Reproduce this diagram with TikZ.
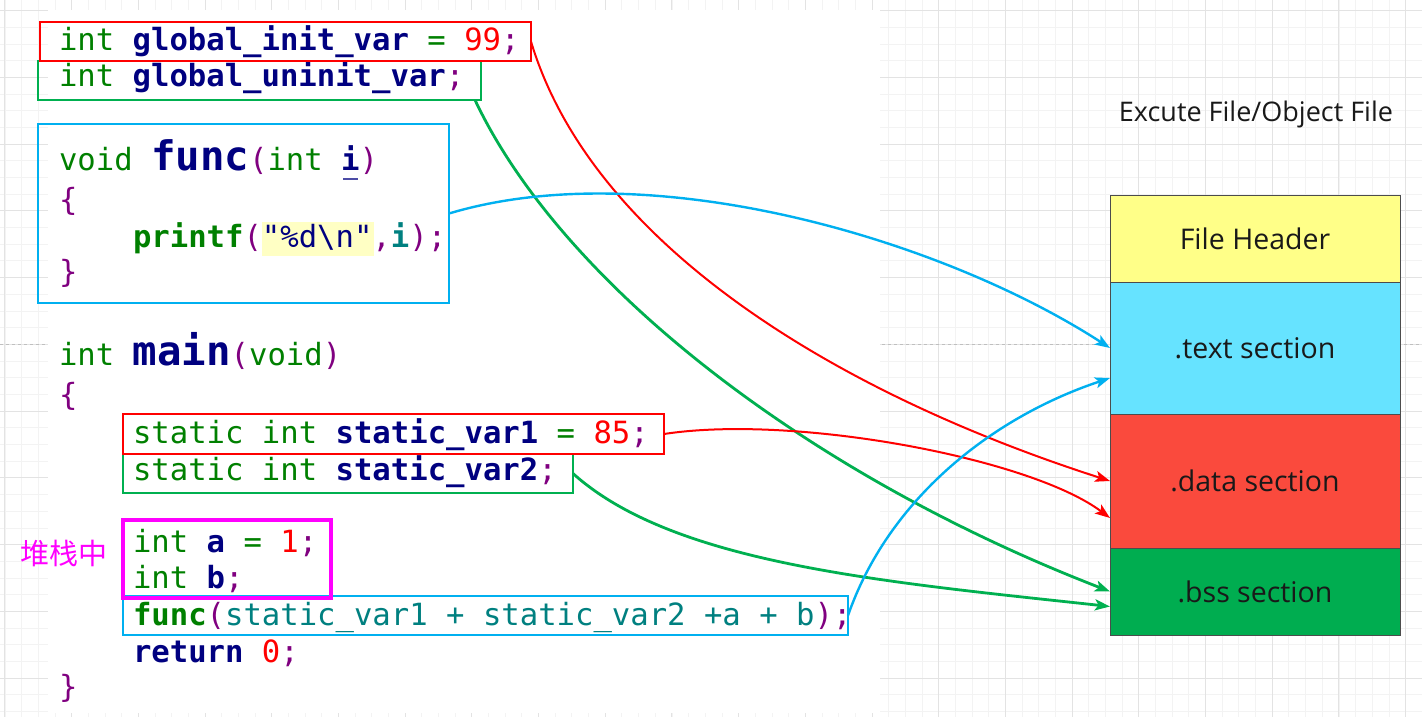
\documentclass[tikz,border=0pt]{standalone}
\usepackage{fontspec}
\usetikzlibrary{arrows.meta}
\newfontfamily\codefont{DejaVu Sans Mono}
\newfontfamily\uifont{Open Sans}
\newfontfamily\cjkfont{Noto Sans CJK SC}
\definecolor{kw}{HTML}{008000}
\definecolor{idc}{HTML}{000080}
\definecolor{num}{HTML}{FF0000}
\definecolor{pun}{HTML}{800080}
\definecolor{argc}{HTML}{008080}
\definecolor{strbg}{HTML}{FFFFC4}
\definecolor{bred}{HTML}{FF0000}
\definecolor{bgreen}{HTML}{00B050}
\definecolor{bblue}{HTML}{00B0F0}
\definecolor{bmag}{HTML}{FF00FF}
\definecolor{hdrc}{HTML}{FFFF88}
\definecolor{txtc}{HTML}{66E3FF}
\definecolor{datc}{HTML}{FA4A3D}
\definecolor{bssc}{HTML}{00AD50}
\definecolor{gridmin}{HTML}{F3F3F3}
\definecolor{gridmaj}{HTML}{E3E3E3}
\newcommand\codefs{\codefont\fontsize{30.6}{37}\selectfont}
\newcommand\bigfs{\fontsize{40.7}{48}\selectfont}
\newcommand\ckw[1]{{\color{kw}#1}}
\newcommand\ckwb[1]{{\bfseries\color{kw}#1}}
\newcommand\cid[1]{{\bfseries\color{idc}#1}}
\newcommand\cnum[1]{{\color{num}#1}}
\newcommand\cpun[1]{{\color{pun}#1}}
\newcommand\carg[1]{{\color{argc}#1}}
\newcommand\cargb[1]{{\bfseries\color{argc}#1}}
\newcommand\cstr[1]{{\color{idc}#1}}
\begin{document}
\begin{tikzpicture}[x=1pt,y=-1pt,
  code/.style={anchor=base west, inner sep=0pt, outer sep=0pt, font=\codefs},
  cbox/.style={draw, anchor=north west, inner sep=0pt, outer sep=0pt, line width=2.5pt},
  sect/.style={draw=black!70, line width=0.8pt, anchor=north west, inner sep=0pt, outer sep=0pt, minimum width=290pt, font=\uifont\fontsize{28.5}{32}\selectfont, text=black!90},
  tip/.style={-{Stealth[length=15pt,width=11pt,inset=3.5pt]}},
  redc/.style={tip, draw=bred, line width=2pt},
  greenc/.style={tip, draw=bgreen, line width=2.8pt},
  bluec/.style={tip, draw=bblue, line width=2.4pt}]
\useasboundingbox (0,0) rectangle (1422,717);
\fill[white] (0,0) rectangle (1422,717);
% grid
\foreach \k in {-1,...,86} \draw[gridmin, line width=0.8pt] (4.9+16.675*\k,0) -- (4.9+16.675*\k,717);
\foreach \k in {-5,...,38} \draw[gridmin, line width=0.8pt] (0,77.3+16.69*\k) -- (1422,77.3+16.69*\k);
\foreach \k in {0,...,21} \draw[gridmaj, line width=1pt] (4.9+66.7*\k,0) -- (4.9+66.7*\k,717);
\foreach \k in {-1,...,9} \draw[gridmaj, line width=1pt] (0,77.3+66.75*\k) -- (1422,77.3+66.75*\k);
\draw[black!25, dashed, line width=0.8pt] (0,344) -- (1422,344);
% code screenshot
\fill[white] (48,10) rectangle (880,713);
\fill[strbg] (262,222) rectangle (374,256);
\node[code] (c1) at (59,51) {\ckw{int} \cid{global\_init\_var} \ckw{=} \cnum{99}\cpun{;}};
\node[code] (c2) at (59,87) {\ckw{int} \cid{global\_uninit\_var}\cpun{;}};
\node[code] (c3) at (59,170) {\ckw{void} {\bigfs\cid{func}}\cpun{(}\ckw{int} \cid{i}\cpun{)}};
\draw[idc!70, line width=1.2pt] (343,179) -- (358,179);
\node[code] (c4) at (59,210) {\cpun{\{}};
\node[code] (c5) at (133,247) {\ckwb{printf}\cpun{(}\cstr{"\%d\textbackslash n"}\cpun{,}\cargb{i}\cpun{);}};
\node[code] (c6) at (59,282) {\cpun{\}}};
\node[code] (c7) at (59,365) {\ckw{int} {\bigfs\cid{main}}\cpun{(}\ckw{void}\cpun{)}};
\node[code] (c8) at (59,405) {\cpun{\{}};
\node[code] (c9) at (133,443) {\ckw{static int} \cid{static\_var1} \ckw{=} \cnum{85}\cpun{;}};
\node[code] (c10) at (133,480) {\ckw{static int} \cid{static\_var2}\cpun{;}};
\node[code] (c11) at (133,552) {\ckw{int} \cid{a} \ckw{=} \cnum{1}\cpun{;}};
\node[code] (c12) at (133,588) {\ckw{int} \cid{b}\cpun{;}};
\node[code] (c13) at (133,625) {\ckwb{func}\cpun{(}\carg{static\_var1 + static\_var2 +a + b}\cpun{);}};
\node[code] (c14) at (133,662) {\cid{return} \cnum{0}\cpun{;}};
\node[code] (c15) at (59,697) {\cpun{\}}};
% boxes
\node[cbox, draw=bgreen, minimum width=443pt, minimum height=39pt] (g1) at (38,61) {};
\node[cbox, draw=bred, minimum width=491pt, minimum height=39pt] (r1) at (40,22) {};
\node[cbox, draw=bblue, minimum width=411pt, minimum height=179pt] (b1) at (38,124) {};
\node[cbox, draw=bgreen, minimum width=450pt, minimum height=39pt] (g2) at (123,454) {};
\node[cbox, draw=bred, minimum width=541pt, minimum height=40pt] (r2) at (123,414) {};
\node[cbox, draw=bblue, minimum width=725pt, minimum height=39pt] (b2) at (123,596) {};
\node[cbox, draw=bmag, line width=4.8pt, minimum width=208pt, minimum height=78pt] (m1) at (123,520) {};
\node[text=bmag, font=\cjkfont\fontsize{29}{33}\selectfont, inner sep=0pt] (stk) at (64,553) {堆栈中};
% file layout
\node[font=\uifont\fontsize{27}{31}\selectfont, text=black!90, inner sep=0pt] (title) at (1256,114) {Excute File/Object File};
\node[sect, fill=hdrc, minimum height=87pt] (hdr) at (1110,195) {File Header};
\node[sect, fill=txtc, minimum height=132pt] (txt) at (1110,282) {.text section};
\node[sect, fill=datc, minimum height=134pt] (dat) at (1110,414) {.data section};
\node[sect, fill=bssc, minimum height=87pt] (bss) at (1110,548) {.bss section};
% connectors
\draw[redc] (r1.east) .. controls +(60,200) and +(-280,-90) .. (dat.west);
\draw[greenc] ([xshift=-6pt]g1.south east) .. controls +(85,180) and +(-310,-120) .. (bss.west);
\draw[bluec] (b1.east) .. controls +(200,-60) and +(-170,-110) .. (txt.west);
\draw[redc] (r2.east) .. controls +(130,-20) and +(-80,-60) .. ([yshift=-37pt]dat.west);
\draw[greenc] (g2.east) .. controls +(100,90) and +(-230,-25) .. ([yshift=-15pt]bss.west);
\draw[bluec] (b2.east) .. controls +(40,-115) and +(-120,40) .. ([yshift=-30pt]txt.west);
\end{tikzpicture}
\end{document}
